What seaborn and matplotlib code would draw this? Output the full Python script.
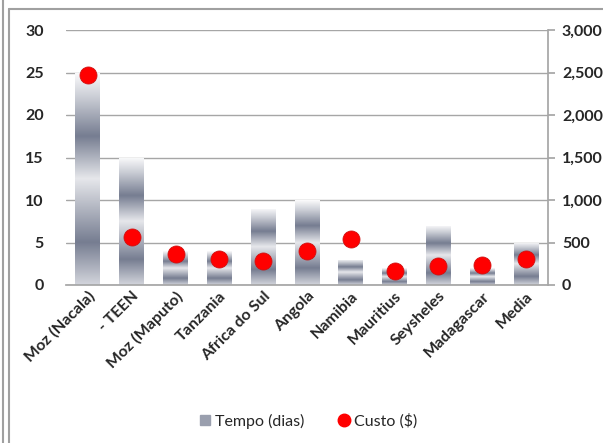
import numpy as np
import pandas as pd
import matplotlib
matplotlib.use("Agg")
import matplotlib.pyplot as plt
import seaborn as sns
from matplotlib.colors import LinearSegmentedColormap
from matplotlib.lines import Line2D
from matplotlib.ticker import FuncFormatter, MultipleLocator

categories = ["Moz (Nacala)", "- TEEN", "Moz (Maputo)", "Tanzania", "Africa do Sul",
              "Angola", "Namibia", "Mauritius", "Seysheles", "Madagascar", "Media"]
tempo_dias = [25, 15, 4, 4, 9, 10, 3, 2, 7, 2, 5]
custo = [2470, 560, 370, 310, 280, 400, 540, 170, 220, 230, 310]

df = pd.DataFrame({"cat": categories, "tempo": tempo_dias, "custo": custo})

sns.set_theme(style="white")
plt.rcParams["font.family"] = ["Lato", "DejaVu Sans"]

fig = plt.figure(figsize=(6.03, 4.43), dpi=100)
ax = fig.add_axes([66/603, 1-285/443, (548-66)/603, (285-30)/443])

sns.barplot(data=df, x="cat", y="tempo", ax=ax, width=0.57, color="#888888",
            linewidth=0, zorder=2)

grad_cmap = LinearSegmentedColormap.from_list(
    "bands",
    [(0.0, "#fbfbfc"), (0.12, "#c9ccd4"), (0.3, "#767d91"), (0.5, "#e6e7eb"),
     (0.8, "#767d91"), (1.0, "#d3d5dc")])
grad = np.linspace(0, 1, 256).reshape(-1, 1)
for p in ax.patches:
    x0, y0 = p.get_x(), p.get_y()
    w, h = p.get_width(), p.get_height()
    p.set_facecolor("none")
    im = ax.imshow(grad, cmap=grad_cmap, aspect="auto",
                   extent=[x0, x0 + w, y0, y0 + h], origin="upper", zorder=2)
    im.set_clip_path(p)

ax.set_xlim(-0.5, len(categories) - 0.5)
ax.set_ylim(0, 30)
ax.yaxis.set_major_locator(MultipleLocator(5))
ax.grid(axis="y", color="#a6a6a6", linewidth=1, zorder=0)
ax.set_axisbelow(True)
for s in ["left", "top", "right"]:
    ax.spines[s].set_visible(False)
ax.spines["bottom"].set_color("#a6a6a6")
ax.set_xlabel("")
ax.set_ylabel("")
ax.tick_params(axis="y", length=0, pad=16, labelsize=11.5)
ax.tick_params(axis="x", length=0, pad=3)
for lab in ax.get_yticklabels():
    lab.set_fontweight("bold")
ax.set_xticks(range(len(categories)))
ax.set_xticklabels(categories, rotation=45, ha="right", rotation_mode="anchor",
                   fontweight="bold", fontsize=11.5)

ax2 = ax.twinx()
sns.scatterplot(data=df, x="cat", y="custo", ax=ax2, color="#ff0000", s=150,
                edgecolor="#d01010", linewidth=0.6, zorder=5, legend=False)
ax2.set_ylim(0, 3000)
ax2.yaxis.set_major_locator(MultipleLocator(500))
ax2.yaxis.set_major_formatter(FuncFormatter(lambda v, _: f"{int(v):,}"))
for s in ["left", "top", "bottom"]:
    ax2.spines[s].set_visible(False)
ax2.spines["right"].set_color("#a6a6a6")
ax2.tick_params(axis="y", right=True, length=5, color="#a6a6a6", pad=5, labelsize=11.5)
for lab in ax2.get_yticklabels():
    lab.set_fontweight("bold")
ax2.set_ylabel("")
ax2.set_xlabel("")
ax2.grid(False)

handles = [
    Line2D([], [], marker="s", linestyle="none", markersize=7,
           markerfacecolor="#9a9fae", markeredgecolor="#9a9fae"),
    Line2D([], [], marker="o", linestyle="none", markersize=9,
           markerfacecolor="#ff0000", markeredgecolor="#ff0000"),
]
fig.legend(handles, ["Tempo (dias)", "Custo ($)"], loc="center",
           bbox_to_anchor=(307/603, 1-421/443), ncol=2, frameon=False,
           fontsize=11.5, handletextpad=0.1, columnspacing=2.0, handlelength=1.0)

# outer frame lines
fig.add_artist(Line2D([3/603, 3/603], [0, 1], color="#a0a0a0", lw=1.5))
fig.add_artist(Line2D([8.5/603, 8.5/603], [0, 1-9/443], color="#a0a0a0", lw=1.5))
fig.add_artist(Line2D([8.5/603, 1], [1-9/443, 1-9/443], color="#a0a0a0", lw=1.5))

fig.savefig("out.png", dpi=100)
